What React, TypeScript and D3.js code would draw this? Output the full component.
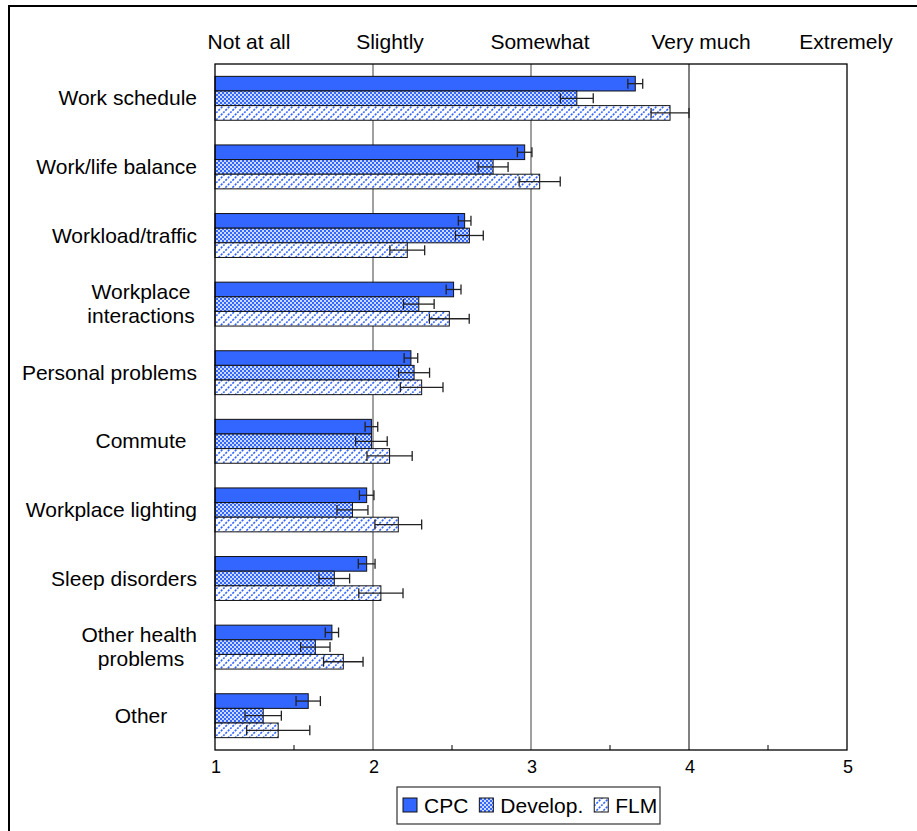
import React, { useEffect, useRef } from "react";
import * as d3 from "d3";

const categories = [
  "Work schedule",
  "Work/life balance",
  "Workload/traffic",
  "Workplace interactions",
  "Personal problems",
  "Commute",
  "Workplace lighting",
  "Sleep disorders",
  "Other health problems",
  "Other",
];
const categoryLines = [
  ["Work schedule"],
  ["Work/life balance"],
  ["Workload/traffic"],
  ["Workplace", "interactions"],
  ["Personal problems"],
  ["Commute"],
  ["Workplace lighting"],
  ["Sleep disorders"],
  ["Other health", "problems"],
  ["Other"],
];
const seriesNames = ["CPC", "Develop.", "FLM"];
const cpcValues = [3.66, 2.96, 2.58, 2.51, 2.24, 1.99, 1.96, 1.96, 1.74, 1.59];
const cpcErrors = [0.047, 0.046, 0.04, 0.047, 0.043, 0.04, 0.046, 0.053, 0.042, 0.077];
const devValues = [3.29, 2.76, 2.61, 2.29, 2.26, 1.99, 1.87, 1.755, 1.635, 1.305];
const devErrors = [0.104, 0.095, 0.088, 0.097, 0.098, 0.1, 0.098, 0.097, 0.093, 0.115];
const flmValues = [3.88, 3.055, 2.217, 2.483, 2.308, 2.105, 2.16, 2.05, 1.812, 1.4];
const flmErrors = [0.12, 0.13, 0.11, 0.126, 0.135, 0.143, 0.148, 0.14, 0.125, 0.2];
const xTicks = [1, 2, 3, 4, 5];
const minorTicks = [1.5, 2.5, 3.5, 4.5];
const scaleLabels = ["Not at all", "Slightly", "Somewhat", "Very much", "Extremely"];
const scaleLabelCenters = [249, 390, 540, 701, 846];

const BLUE = "#3366FF";
const FONT = "'Liberation Sans', Arial, sans-serif";

export default function App() {
  const ref = useRef<SVGSVGElement>(null);

  useEffect(() => {
    const svg = d3.select(ref.current);
    svg.selectAll("*").remove();

    const W = 917, H = 831;
    const left = 215, right = 847, top = 64, bottom = 750;

    const defs = svg.append("defs");
    const chk = defs.append("pattern").attr("id", "checker").attr("patternUnits", "userSpaceOnUse")
      .attr("width", 4).attr("height", 4);
    chk.append("rect").attr("width", 4).attr("height", 4).attr("fill", BLUE);
    [[0, 0], [2, 2]].forEach(([a, b]) =>
      chk.append("rect").attr("x", a).attr("y", b).attr("width", 2).attr("height", 2).attr("fill", "#fff").attr("opacity", 0.75));
    const diag = defs.append("pattern").attr("id", "diag").attr("patternUnits", "userSpaceOnUse")
      .attr("width", 7).attr("height", 7);
    diag.append("rect").attr("width", 7).attr("height", 7).attr("fill", "#fff");
    diag.append("path").attr("d", "M-1,8 L8,-1 M-1,1 L1,-1 M6,8 L8,6").attr("stroke", BLUE).attr("stroke-width", 1.6)
      .attr("stroke-dasharray", "2.2,1.2");
    const fills = [BLUE, "url(#checker)", "url(#diag)"];

    svg.append("rect").attr("x", 0).attr("y", 0).attr("width", W).attr("height", H).attr("fill", "#fff");
    svg.append("rect").attr("x", 9).attr("y", 6).attr("width", 1000).attr("height", 1000)
      .attr("fill", "none").attr("stroke", "#000").attr("stroke-width", 2);

    const x = d3.scaleLinear().domain([1, 5]).range([left, right]);
    const y = d3.scaleBand<string>().domain(categories).range([top, bottom]).paddingInner(0.36).paddingOuter(0.18);
    const ys = d3.scaleBand<string>().domain(seriesNames).range([0, y.bandwidth()]);

    // gridlines
    [2, 3, 4].forEach((t) => {
      svg.append("line").attr("x1", x(t)).attr("x2", x(t)).attr("y1", top).attr("y2", bottom)
        .attr("stroke", t === 4 ? "#000" : "#808080").attr("stroke-width", t === 4 ? 1 : 1.5);
    });

    const values = [cpcValues, devValues, flmValues];
    const errors = [cpcErrors, devErrors, flmErrors];

    categories.forEach((c, i) => {
      seriesNames.forEach((s, j) => {
        const v = values[j][i];
        const y0 = (y(c) as number) + (ys(s) as number);
        svg.append("rect").attr("x", x(1)).attr("y", y0).attr("width", x(v) - x(1)).attr("height", ys.bandwidth())
          .attr("fill", fills[j]).attr("stroke", "#111").attr("stroke-width", 1);
      });
    });
    categories.forEach((c, i) => {
      seriesNames.forEach((s, j) => {
        const v = values[j][i];
        const e = errors[j][i];
        const cy = (y(c) as number) + (ys(s) as number) + ys.bandwidth() / 2;
        const g = svg.append("g").attr("stroke", "#222").attr("stroke-width", 1.3);
        g.append("line").attr("x1", x(v - e)).attr("x2", x(v + e)).attr("y1", cy).attr("y2", cy);
        [v - e, v + e].forEach((xv) =>
          g.append("line").attr("x1", x(xv)).attr("x2", x(xv)).attr("y1", cy - 5).attr("y2", cy + 5));
      });
    });

    // plot frame
    svg.append("rect").attr("x", left).attr("y", top).attr("width", right - left).attr("height", bottom - top)
      .attr("fill", "none").attr("stroke", "#000").attr("stroke-width", 1.3);

    minorTicks.forEach((t) => {
      svg.append("line").attr("x1", x(t)).attr("x2", x(t)).attr("y1", bottom - 5).attr("y2", bottom)
        .attr("stroke", "#000").attr("stroke-width", 1);
    });
    xTicks.forEach((t) => {
      svg.append("text").attr("x", x(t) + 1).attr("y", 773).attr("text-anchor", "middle")
        .attr("font-family", FONT).attr("font-size", 18).attr("fill", "#000").text(String(t));
    });

    scaleLabels.forEach((l, i) => {
      svg.append("text").attr("x", scaleLabelCenters[i]).attr("y", 49).attr("text-anchor", "middle")
        .attr("font-family", FONT).attr("font-size", 21).attr("fill", "#000").text(l);
    });

    // category labels
    categories.forEach((c, i) => {
      const lines = categoryLines[i];
      const cy = (y(c) as number) + y.bandwidth() / 2;
      const lh = 24;
      lines.forEach((ln, k) => {
        const t = svg.append("text").attr("y", cy + (k - (lines.length - 1) / 2) * lh + 7)
          .attr("text-anchor", "middle").attr("font-family", FONT).attr("font-size", 21).attr("fill", "#000").text(ln);
        const w = (t.node() as SVGTextElement).getComputedTextLength();
        t.attr("x", Math.min(141, 197 - w / 2));
      });
    });

    // legend
    const lg = svg.append("g");
    lg.append("rect").attr("x", 397).attr("y", 787).attr("width", 263).attr("height", 37)
      .attr("fill", "#fff").attr("stroke", "#333").attr("stroke-width", 1.2);
    let lx = 403;
    seriesNames.forEach((s, j) => {
      lg.append("rect").attr("x", lx).attr("y", 798).attr("width", 14).attr("height", 14)
        .attr("fill", fills[j]).attr("stroke", "#111").attr("stroke-width", 1);
      const t = lg.append("text").attr("x", lx + 21).attr("y", 813).attr("font-family", FONT).attr("font-size", 21)
        .attr("fill", "#000").text(s);
      const w = (t.node() as SVGTextElement).getComputedTextLength();
      lx = lx + 21 + w + 11;
    });
  }, []);

  return (
    <svg ref={ref} width={917} height={831}
      style={{ position: "absolute", left: 0, top: 0, display: "block" }} />
  );
}
